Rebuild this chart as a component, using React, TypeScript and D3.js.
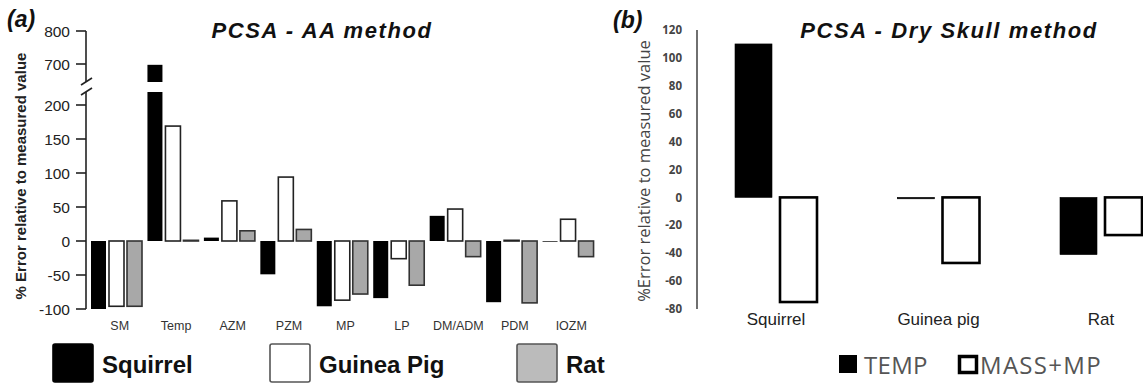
import React from "react";
import * as d3 from "d3";

// ---- panel (a) data: PCSA - AA method
const categoriesA = ["SM", "Temp", "AZM", "PZM", "MP", "LP", "DM/ADM", "PDM", "IOZM"];
const squirrelA = [-100, 690, 5, -49, -96, -84, 37, -90, -1];
const guineaPigA = [-96, 169, 59, 94, -87, -26, 47, 1, 32];
const ratA = [-96, 1, 15, 17, -78, -65, -23, -91, -23];
const yTicksA = [-100, -50, 0, 50, 100, 150, 200, 700, 800];
const seriesA = ["Squirrel", "Guinea Pig", "Rat"];

// ---- panel (b) data: PCSA - Dry Skull method
const speciesB = ["Squirrel", "Guinea pig", "Rat"];
const tempB = [110, -1, -41];
const massMpB = [-75, -47, -27];
const yTicksB = [120, 100, 80, 60, 40, 20, 0, -20, -40, -60, -80];
const seriesB = ["TEMP", "MASS+MP"];

const W = 1143;
const H = 389;

const arial = "'Liberation Sans', Arial, sans-serif";
const sansB = "'Open Sans', 'Noto Sans', sans-serif";

const fillA: Record<string, string> = { Squirrel: "#000", "Guinea Pig": "#fff", Rat: "#a8a8a8" };
const strokeA: Record<string, string> = { Squirrel: "none", "Guinea Pig": "#222", Rat: "#333" };

const App = () => {
  // (a) scales -- broken y axis: -100..200 then 700..800
  const xA = d3.scaleBand().domain(categoriesA).range([86, 594]);
  const xAs = d3.scaleBand().domain(seriesA).range([5, 56]).paddingInner(1 / 6);
  const yA = d3.scaleLinear().domain([-100, 200, 700, 800]).range([309, 105, 64, 31]);
  const valsA: Record<string, number[]> = { Squirrel: squirrelA, "Guinea Pig": guineaPigA, Rat: ratA };
  const breakY0 = 82;
  const breakY1 = 92;

  // (b) scales
  const xB = d3.scaleBand().domain(speciesB).range([695, 1182.5]);
  const xBs = d3.scaleBand().domain(seriesB).range([40, 122]).paddingInner(8 / 45);
  const yB = d3.scaleLinear().domain([-80, 120]).range([309, 30]);
  const valsB: Record<string, number[]> = { TEMP: tempB, "MASS+MP": massMpB };

  const legendA = [
    { name: "Squirrel", x: 53 },
    { name: "Guinea Pig", x: 270 },
    { name: "Rat", x: 517 },
  ];

  return (
    <svg width={W} height={H} style={{ position: "absolute", left: 0, top: 0, background: "#fff" }}>
      {/* ================= panel (a) ================= */}
      <text x={7} y={27} fontFamily={arial} fontWeight="bold" fontStyle="italic" fontSize={23} fill="#111">(a)</text>
      <text x={322} y={38} textAnchor="middle" fontFamily={arial} fontWeight="bold" fontStyle="italic"
        fontSize={22} letterSpacing={1.6} fill="#111">PCSA - AA method</text>

      {/* y axis with break */}
      <line x1={86} x2={86} y1={yA(800)} y2={breakY0} stroke="#222" strokeWidth={1.6} />
      <line x1={86} x2={86} y1={breakY1} y2={yA(-100)} stroke="#222" strokeWidth={1.6} />
      <line x1={81} x2={92} y1={breakY0 + 3} y2={breakY0 - 4} stroke="#222" strokeWidth={1.6} />
      <line x1={81} x2={92} y1={breakY1 + 3} y2={breakY1 - 4} stroke="#222" strokeWidth={1.6} />
      {yTicksA.map((t) => (
        <g key={t}>
          <line x1={76} x2={86} y1={yA(t)} y2={yA(t)} stroke="#222" strokeWidth={1.6} />
          <text x={70} y={yA(t)} dy="0.36em" textAnchor="end" fontFamily={arial} fontSize={15.5} fill="#222">{t}</text>
        </g>
      ))}
      <text transform={`translate(26,176) rotate(-90)`} textAnchor="middle" fontFamily={arial}
        fontWeight="bold" fontSize={15} fill="#222">% Error relative to measured value</text>

      {/* bars */}
      {categoriesA.map((c, i) => (
        <g key={c} transform={`translate(${xA(c)},0)`}>
          {seriesA.map((s) => {
            const v = valsA[s][i];
            const y0 = yA(0);
            const y1 = yA(v);
            return (
              <rect key={s} x={xAs(s)} width={xAs.bandwidth()} y={Math.min(y0, y1)}
                height={Math.max(Math.abs(y1 - y0), 0.6)} fill={fillA[s]} stroke={strokeA[s]}
                strokeWidth={1.6} />
            );
          })}
          {/* gap where a bar crosses the axis break */}
          {seriesA.filter((s) => valsA[s][i] > 200).map((s) => (
            <rect key={s + "-brk"} x={(xAs(s) as number) - 2} width={xAs.bandwidth() + 4}
              y={breakY0} height={breakY1 - breakY0} fill="#fff" />
          ))}
          <text x={(xA.bandwidth() + 5) / 2 + 3} y={330} textAnchor="middle" fontFamily={arial}
            fontSize={12.5} fill="#333">{c}</text>
        </g>
      ))}

      {/* legend (a) */}
      {legendA.map((l) => (
        <g key={l.name}>
          <rect x={l.x} y={344} width={40} height={38} rx={2} fill={l.name === "Rat" ? "#bbbbbb" : fillA[l.name]}
            stroke={l.name === "Squirrel" ? "#000" : "#555"} strokeWidth={1.6} />
          <text x={l.x + 49} y={373} fontFamily={arial} fontWeight="bold" fontSize={24} fill="#111">{l.name}</text>
        </g>
      ))}

      {/* ================= panel (b) ================= */}
      <text x={613} y={28} fontFamily={arial} fontWeight="bold" fontStyle="italic" fontSize={23} fill="#111">(b)</text>
      <text x={949} y={38} textAnchor="middle" fontFamily={arial} fontWeight="bold" fontStyle="italic"
        fontSize={22} letterSpacing={1.6} fill="#111">PCSA - Dry Skull method</text>

      <line x1={697} x2={697} y1={yB(120)} y2={yB(-80)} stroke="#222" strokeWidth={1.3} />
      {yTicksB.map((t) => (
        <text key={t} x={682} y={yB(t)} dy="0.36em" textAnchor="end" fontFamily={sansB} fontWeight="bold"
          fontSize={11.5} fill="#444">{t}</text>
      ))}
      <text transform={`translate(650,171) rotate(-90)`} textAnchor="middle" fontFamily={sansB}
        fontSize={16.5} fill="#444">%Error relative to measured value</text>

      {speciesB.map((c, i) => (
        <g key={c} transform={`translate(${xB(c)},0)`}>
          {seriesB.map((s) => {
            const v = valsB[s][i];
            const y0 = yB(0);
            const y1 = yB(v);
            const isTemp = s === "TEMP";
            return (
              <rect key={s} x={xBs(s)} width={xBs.bandwidth()} y={Math.min(y0, y1)}
                height={Math.max(Math.abs(y1 - y0), 0.8)} fill={isTemp ? "#000" : "#fff"}
                stroke="#000" strokeWidth={isTemp ? 0.6 : 2.6} />
            );
          })}
          <text x={81} y={325} textAnchor="middle" fontFamily={arial} fontSize={17} fill="#222">{c}</text>
        </g>
      ))}

      {/* legend (b) */}
      <rect x={839} y={355} width={18} height={18} fill="#000" />
      <text x={864} y={374} fontFamily={sansB} fontSize={24} letterSpacing={0.3} fill="#555">TEMP</text>
      <rect x={959.5} y={356.5} width={17} height={16} fill="#fff" stroke="#000" strokeWidth={3.5} />
      <text x={980} y={374} fontFamily={sansB} fontSize={24} letterSpacing={1.3} fill="#555">MASS+MP</text>
    </svg>
  );
};

export default App;
